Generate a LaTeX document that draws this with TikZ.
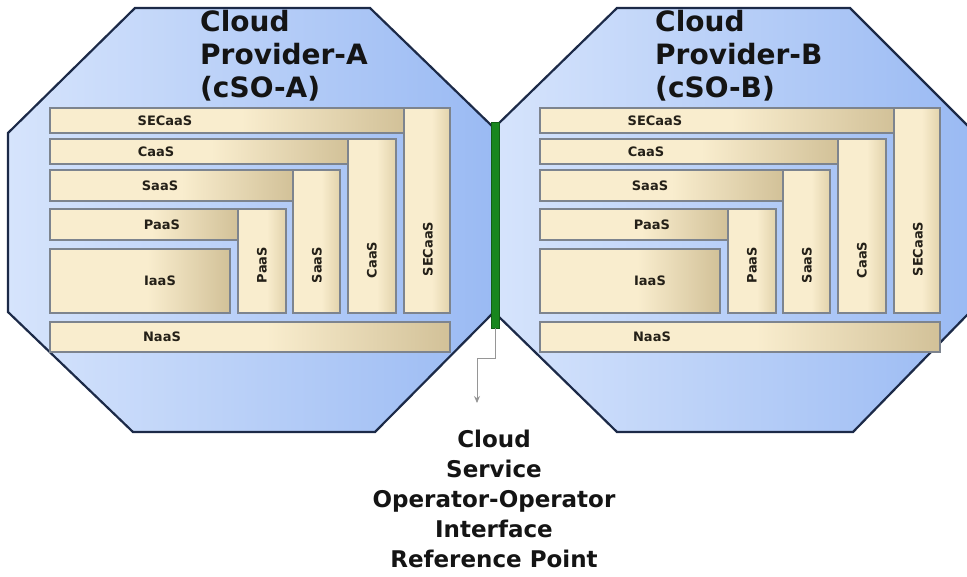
\documentclass[tikz,border=0pt]{standalone}
\usepackage{fontspec}
\setmainfont{DejaVu Sans}
\usetikzlibrary{arrows.meta}

\definecolor{octline}{RGB}{28,42,72}
\definecolor{octlight}{RGB}{214,228,252}
\definecolor{octdark}{RGB}{154,186,243}
\definecolor{creamA}{RGB}{249,237,206}
\definecolor{tanA}{RGB}{210,193,152}
\definecolor{tanB}{RGB}{226,211,172}
\definecolor{boxline}{RGB}{125,132,142}
\definecolor{ifgreen}{RGB}{24,134,30}
\definecolor{linkgray}{RGB}{150,150,150}
\definecolor{labeltext}{RGB}{36,32,24}

% cream bars that darken towards their right end
\pgfdeclarehorizontalshading{hbarshade}{100bp}{color(0bp)=(creamA); color(25bp)=(creamA); color(52bp)=(creamA); color(75bp)=(tanA); color(100bp)=(tanA)}
\pgfdeclarehorizontalshading{vbarshade}{100bp}{color(0bp)=(creamA); color(25bp)=(creamA); color(55bp)=(creamA); color(75bp)=(tanB); color(100bp)=(tanB)}

\tikzset{
  octagon/.style={draw=octline, line width=2.2pt, line join=miter, left color=octlight, right color=octdark},
  hbar/.style={draw=boxline, line width=1.1pt, shade, shading=hbarshade},
  vbar/.style={draw=boxline, line width=1.1pt, shade, shading=vbarshade},
  lbl/.style={font=\fontsize{13}{15}\selectfont\bfseries, text=labeltext, inner sep=0pt},
  vlbl/.style={lbl, rotate=90},
  provtitle/.style={font=\fontsize{28}{33}\selectfont\bfseries, align=left, anchor=north west, inner sep=0pt, text=black!92},
  caption/.style={font=\fontsize{23}{30}\selectfont\bfseries, align=center, anchor=north, inner sep=0pt, text=black!92},
  ifbar/.style={fill=ifgreen, draw=ifgreen!70!black, line width=0.4pt, inner sep=0pt, minimum width=8, minimum height=206},
  link/.style={draw=linkgray, line width=0.9pt, -{Stealth[length=7pt, width=6pt]}},
}

% service stack of one provider: #1 tag used in node names, #2 horizontal shift
\newcommand\servicestack[2]{%
  \begin{scope}[xshift=#2]
    \draw[hbar] (50,108) rectangle (404,133);
    \draw[vbar] (404,108) rectangle (450,313);
    \draw[hbar] (50,139) rectangle (348,164);
    \draw[vbar] (348,139) rectangle (396,313);
    \draw[hbar] (50,170) rectangle (293,201);
    \draw[vbar] (293,170) rectangle (340,313);
    \draw[hbar] (50,209) rectangle (238,240);
    \draw[vbar] (238,209) rectangle (286,313);
    \draw[hbar] (50,249) rectangle (230,313);
    \draw[hbar] (50,322) rectangle (450,352);
    \node[lbl] (secH#1) at (165,120.5) {SECaaS};
    \node[lbl] (caaH#1) at (156,151.5) {CaaS};
    \node[lbl] (saaH#1) at (160,185.5) {SaaS};
    \node[lbl] (paaH#1) at (162,224.5) {PaaS};
    \node[lbl] (iaa#1)  at (160,281) {IaaS};
    \node[lbl] (naa#1)  at (162,337) {NaaS};
    \node[vlbl] (paaV#1) at (262,265) {PaaS};
    \node[vlbl] (saaV#1) at (317,265) {SaaS};
    \node[vlbl] (caaV#1) at (372,260) {CaaS};
    \node[vlbl] (secV#1) at (428,249) {SECaaS};
  \end{scope}}

\begin{document}
\begin{tikzpicture}[x=1pt, y=-1pt]
  \useasboundingbox (0,0) rectangle (967,576);

  % provider domains
  \draw[octagon] (135,8) -- (370,8) -- (493,127) -- (493,313) -- (375,432)
                 -- (133,432) -- (8,312) -- (8,133) -- cycle;
  \draw[octagon] (617,8) -- (850,8) -- (970,128) -- (970,312) -- (853,432)
                 -- (617,432) -- (495,313) -- (495,127) -- cycle;

  \servicestack{A}{0}
  \servicestack{B}{490}

  \node[provtitle] (provA) at (200,10) {Cloud\\Provider-A\\(cSO-A)};
  \node[provtitle] (provB) at (655,10) {Cloud\\Provider-B\\(cSO-B)};

  % operator-operator interface
  \node[ifbar, anchor=north] (iface) at (495,122) {};
  \coordinate (tip) at (477,403);
  \draw[link] (iface.south) -- ++(0,30) -| (tip);

  \node[caption] (ifname) at (494,430)
    {Cloud\\Service\\Operator-Operator\\Interface\\Reference Point};
\end{tikzpicture}
\end{document}
